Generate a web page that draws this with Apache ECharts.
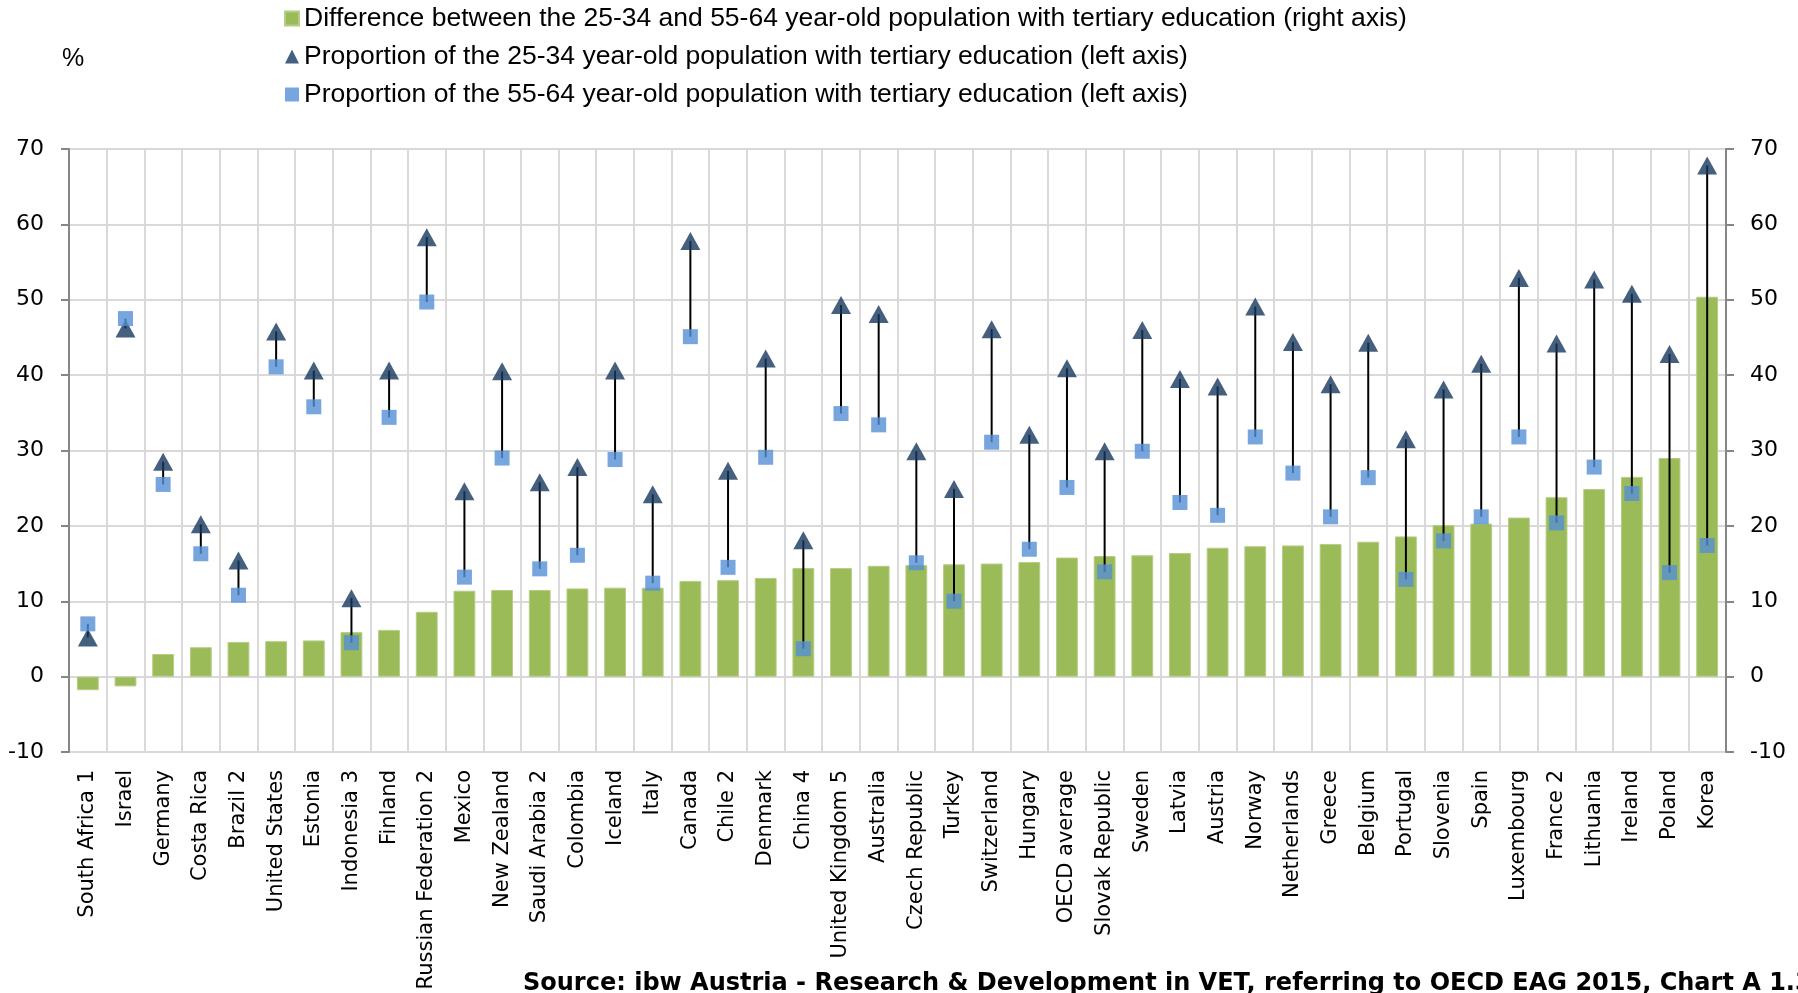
<!DOCTYPE html>
<html>
<head>
<meta charset="utf-8">
<script src="https://cdn.jsdelivr.net/npm/echarts@6/dist/echarts.min.js"></script>
<style>
html,body{margin:0;padding:0;background:#fff;}
#chart{width:1798px;height:993px;}
</style>
</head>
<body>
<div id="chart"></div>
<script>
const categories = ["South Africa 1","Israel","Germany","Costa Rica","Brazil 2","United States","Estonia","Indonesia 3","Finland","Russian Federation 2","Mexico","New Zealand","Saudi Arabia 2","Colombia","Iceland","Italy","Canada","Chile 2","Denmark","China 4","United Kingdom 5","Australia","Czech Republic","Turkey","Switzerland","Hungary","OECD average","Slovak Republic","Sweden","Latvia","Austria","Norway","Netherlands","Greece","Belgium","Portugal","Slovenia","Spain","Luxembourg","France 2","Lithuania","Ireland","Poland","Korea"];
const diffValues = [-1.8,-1.3,3.0,3.9,4.6,4.7,4.8,5.9,6.2,8.6,11.4,11.5,11.5,11.7,11.8,11.8,12.7,12.8,13.1,14.4,14.4,14.7,14.8,14.9,15.0,15.2,15.8,16.0,16.1,16.4,17.1,17.3,17.4,17.6,17.9,18.6,20.1,20.3,21.1,23.8,24.9,26.5,29.0,50.4];
const young2534 = [5.2,46.2,28.5,20.2,15.4,45.8,40.6,10.4,40.6,58.3,24.6,40.5,25.8,27.8,40.6,24.2,57.8,27.3,42.2,18.1,49.3,48.1,29.9,24.9,46.1,32.1,40.9,29.9,46.0,39.5,38.5,49.1,44.4,38.8,44.3,31.5,38.1,41.5,52.9,44.2,52.7,50.8,42.8,67.8];
const old5564 = [7.0,47.5,25.5,16.3,10.8,41.1,35.8,4.5,34.4,49.7,13.2,29.0,14.3,16.1,28.8,12.4,45.1,14.5,29.1,3.7,34.9,33.4,15.1,10.0,31.1,16.9,25.1,13.9,29.9,23.1,21.4,31.8,27.0,21.2,26.4,12.9,18.0,21.2,31.8,20.4,27.8,24.3,13.8,17.4];
const axisTicks = {min:-10, max:70, interval:10};

const nameDiff = "Difference between the 25-34 and 55-64 year-old population with tertiary education (right axis)";
const nameYoung = "Proportion of the 25-34 year-old population with tertiary education (left axis)";
const nameOld = "Proportion of the 55-64 year-old population with tertiary education (left axis)";

const chart = echarts.init(document.getElementById('chart'));
const axisFont = {fontFamily:'DejaVu Sans', fontSize:21, color:'#000'};
const valueFont = {fontFamily:'DejaVu Sans', fontSize:22, color:'#000'};
chart.setOption({
  animation:false,
  backgroundColor:'#fff',
  grid:{left:69, right:72, top:149, bottom:241, containLabel:false},
  legend:{
    orient:'vertical', left:284, top:4, padding:0, itemGap:9,
    itemWidth:14, itemHeight:14,
    textStyle:{fontFamily:'Liberation Sans', fontSize:26.5, color:'#000', lineHeight:29},
    data:[{name:nameDiff, icon:'rect'},{name:nameYoung, icon:'triangle'},{name:nameOld, icon:'rect'}]
  },
  graphic:[
    {type:'text', left:62, top:47, style:{text:'%', fontFamily:'Liberation Sans', fontSize:25, fill:'#000'}},
    {type:'text', left:523, top:972, style:{text:'Source: ibw Austria - Research & Development in VET, referring to OECD EAG 2015, Chart A 1.3', fontFamily:'DejaVu Sans', fontWeight:'bold', fontSize:24, fill:'#000'}}
  ],
  xAxis:{
    type:'category', data:categories, boundaryGap:true,
    axisLine:{show:false}, axisTick:{show:false},
    splitLine:{show:true, lineStyle:{color:'#D9D9D9', width:2}},
    axisLabel:Object.assign({rotate:90, interval:0, margin:18}, axisFont)
  },
  yAxis:[
    {type:'value', min:axisTicks.min, max:axisTicks.max, interval:axisTicks.interval, position:'left',
     axisLine:{show:true, lineStyle:{color:'#868686', width:2}},
     axisTick:{show:true, length:8, lineStyle:{color:'#868686', width:2}},
     splitLine:{show:true, lineStyle:{color:'#D9D9D9', width:2}},
     axisLabel:Object.assign({margin:25}, valueFont)},
    {type:'value', min:axisTicks.min, max:axisTicks.max, interval:axisTicks.interval, position:'right',
     axisLine:{show:true, lineStyle:{color:'#868686', width:2}},
     axisTick:{show:true, length:8, lineStyle:{color:'#868686', width:2}},
     splitLine:{show:false},
     axisLabel:Object.assign({margin:24}, valueFont)}
  ],
  series:[
    {name:nameDiff, type:'bar', yAxisIndex:1, data:diffValues, barWidth:'58%', z:2,
     itemStyle:{color:'#9BBB59', borderColor:'#B5CD85', borderWidth:1}},
    {name:'arrows', type:'custom', yAxisIndex:0, z:3,
     data:categories.map((c,i)=>[i, old5564[i], young2534[i]]),
     encode:{x:0, y:[1,2]},
     renderItem:function(params, api){
       const x = api.value(0);
       const p1 = api.coord([x, api.value(1)]);
       const p2 = api.coord([x, api.value(2)]);
       return {type:'line', shape:{x1:p1[0], y1:p1[1], x2:p2[0], y2:p2[1]}, style:{stroke:'#000', lineWidth:2}};
     }},
    {name:nameYoung, type:'scatter', yAxisIndex:0, data:young2534, symbol:'triangle', symbolSize:[20,18], z:4,
     itemStyle:{color:'#17375E'}},
    {name:nameOld, type:'scatter', yAxisIndex:0, data:old5564, symbol:'rect', symbolSize:15, z:5,
     itemStyle:{color:'#558ED5'}}
  ]
});
</script>
</body>
</html>
